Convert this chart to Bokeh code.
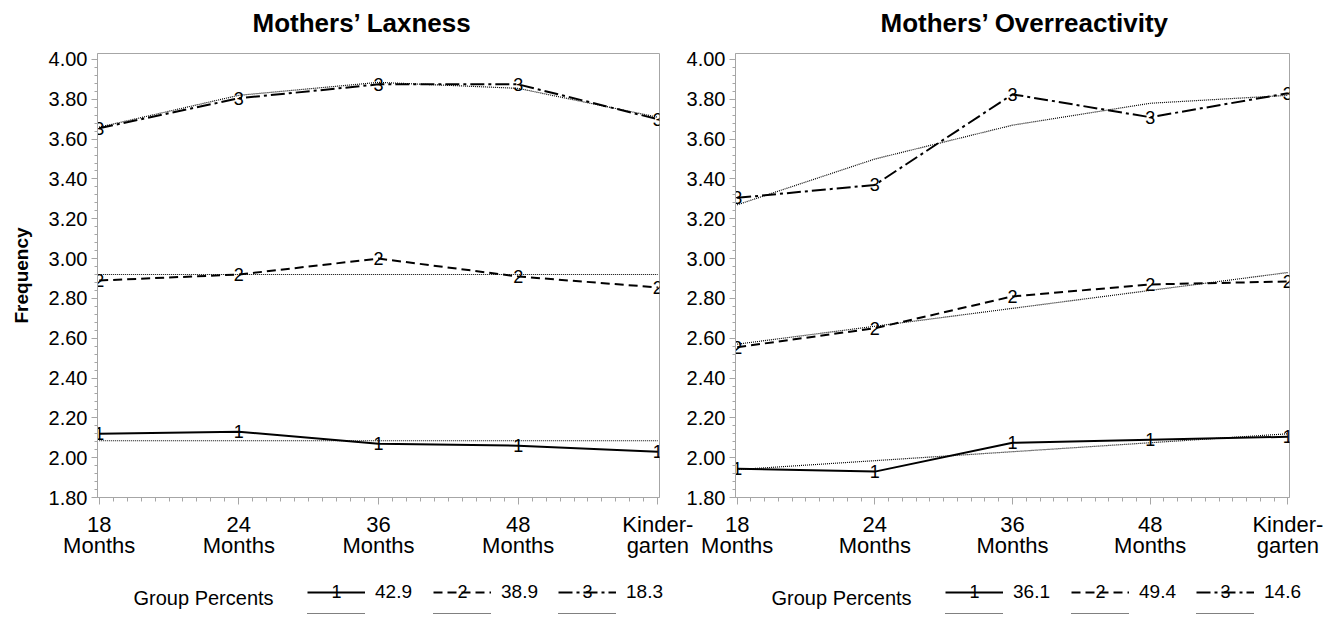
from bokeh.plotting import figure
from bokeh.models import (Range1d, SingleIntervalTicker, FixedTicker, PrintfTickFormatter, Legend,
                          LegendItem, Label, ColumnDataSource, LinearAxis)
from bokeh.layouts import row, column
from bokeh.core.properties import value
from bokeh.embed import file_html
from bokeh.resources import INLINE

# ---------------- data ----------------
period_top = ["18", "24", "36", "48", "Kinder-"]
period_bottom = ["Months", "Months", "Months", "Months", "garten"]
period_pos = [0, 1, 2, 3, 4]
group_ids = ["1", "2", "3"]

lax_g1 = [2.12, 2.13, 2.07, 2.06, 2.03]
lax_g2 = [2.89, 2.92, 3.00, 2.91, 2.855]
lax_g3 = [3.655, 3.805, 3.875, 3.875, 3.70]
lax_g1_fit = [2.085, 2.085, 2.085, 2.085, 2.085]
lax_g2_fit = [2.92, 2.92, 2.92, 2.92, 2.92]
lax_g3_fit = [3.66, 3.82, 3.885, 3.855, 3.71]
lax_pct = ["42.9", "38.9", "18.3"]

over_g1 = [1.945, 1.93, 2.075, 2.09, 2.105]
over_g2 = [2.555, 2.65, 2.81, 2.87, 2.885]
over_g3 = [3.305, 3.37, 3.825, 3.71, 3.83]
over_g1_fit = [1.94, 1.985, 2.03, 2.075, 2.12]
over_g2_fit = [2.57, 2.66, 2.75, 2.84, 2.93]
over_g3_fit = [3.27, 3.50, 3.67, 3.78, 3.82]
over_pct = ["36.1", "49.4", "14.6"]

FONT = "Liberation Sans"
AX = "#a6a6a6"
DASHES = ["solid", "9 5", "14 4 3 4"]
FIT_DASH = "1 1"
LEG_X = [210, 336, 461]
TITLE_H = 43
PANEL_H = 525
LEGEND_H = 50


def strip(total_w, h):
    s = figure(frame_width=total_w, frame_height=h,
               x_range=Range1d(0, 1), y_range=Range1d(0, 1),
               min_border_left=0, min_border_right=0,
               min_border_top=0, min_border_bottom=0,
               x_axis_type=None, y_axis_type=None,
               output_backend="svg", toolbar_location=None, tools="")
    s.outline_line_color = None
    s.xgrid.visible = False
    s.ygrid.visible = False
    return s


def make_title(text, total_w, left_b, offset):
    t = strip(total_w, TITLE_H)
    t.add_layout(Label(x=left_b + offset, y=21, x_units="screen", y_units="screen",
                       text=text, text_align="left", text_baseline="middle",
                       text_font=FONT, text_font_size="26px", text_font_style="bold",
                       text_color="black"))
    return t


def make_panel(series, fits, width, left_b, right_b, ylabel):
    p = figure(width=width, height=PANEL_H,
               x_range=Range1d(-0.012, 4.012), y_range=Range1d(1.8, 4.03),
               min_border_left=left_b, min_border_right=right_b,
               min_border_top=10, min_border_bottom=71,
               output_backend="svg", toolbar_location=None, tools="")
    p.outline_line_color = AX
    p.xgrid.visible = False
    p.ygrid.visible = False

    xa = p.xaxis[0]
    xa.ticker = SingleIntervalTicker(interval=1, num_minor_ticks=10)
    xa.major_label_overrides = {pos: lab for pos, lab in zip(period_pos, period_top)}
    ya = p.yaxis[0]
    ya.ticker = SingleIntervalTicker(interval=0.2, num_minor_ticks=5)
    ya.formatter = PrintfTickFormatter(format="%.2f")
    for ax in (xa, ya):
        ax.axis_line_color = AX
        ax.major_tick_line_color = AX
        ax.minor_tick_line_color = AX
        ax.major_tick_in = 0
        ax.minor_tick_in = 0
        ax.major_label_text_color = "black"
        ax.major_label_text_font = FONT
    xa.major_tick_out = 7
    xa.minor_tick_out = 4
    xa.major_label_text_font_size = "22px"
    xa.major_label_standoff = 7
    ya.major_tick_out = 6
    ya.minor_tick_out = 3
    ya.major_label_text_font_size = "20px"
    ya.major_label_standoff = 4
    if ylabel:
        ya.axis_label = ylabel
        ya.axis_label_text_font = FONT
        ya.axis_label_text_font_size = "19px"
        ya.axis_label_text_font_style = "bold"
        ya.axis_label_text_color = "black"
        ya.axis_label_standoff = 14

    xb = LinearAxis(ticker=FixedTicker(ticks=period_pos),
                    major_label_overrides={pos: lab for pos, lab in zip(period_pos, period_bottom)},
                    axis_line_color=None, major_tick_line_color=None, minor_tick_line_color=None,
                    major_tick_in=0, major_tick_out=0, minor_tick_in=0, minor_tick_out=0,
                    major_label_standoff=-7, major_label_text_font=FONT,
                    major_label_text_font_size="22px", major_label_text_color="black")
    p.add_layout(xb, "below")

    for vals, fit, gid, dash in zip(series, fits, group_ids, DASHES):
        src = ColumnDataSource(dict(x=period_pos, y=vals, lab=[gid] * len(vals)))
        p.line("x", "y", source=src, line_color="black", line_width=2, line_dash=dash)
        p.line(period_pos, fit, line_color="black", line_width=1.2, line_dash=FIT_DASH)
        p.text("x", "y", text="lab", source=src, text_align="center", text_baseline="middle",
               text_font=value(FONT), text_font_size="18px", text_color="black")
    return p


def make_legend(series, fits, pcts, total_w, left_b):
    # legend strip: the sample lines use the series data, which lies outside
    # this strip's ranges, so only the legend glyphs show
    lg = strip(total_w, LEGEND_H)
    for k, (vals, fit, pct, gid, dash) in enumerate(zip(series, fits, pcts, group_ids, DASHES)):
        r = lg.line(period_pos, vals, line_color="black", line_width=2, line_dash=dash)
        f = lg.line(period_pos, fit, line_color="black", line_width=1.2, line_dash=FIT_DASH)
        x0 = left_b + LEG_X[k]
        lg.add_layout(Legend(items=[LegendItem(label=value(pct), renderers=[r])],
                             location=(x0, 15), padding=0, margin=0, spacing=0,
                             border_line_alpha=0, background_fill_alpha=0,
                             glyph_width=58, glyph_height=20, label_height=20, label_standoff=10,
                             label_text_font=FONT, label_text_font_size="19px",
                             label_text_color="black"))
        lg.add_layout(Legend(items=[LegendItem(label=value(" "), renderers=[f])],
                             location=(x0, 1), padding=0, margin=0, spacing=0,
                             border_line_alpha=0, background_fill_alpha=0,
                             glyph_width=58, glyph_height=8, label_height=8, label_standoff=0,
                             label_text_font_size="6px"))
        lg.add_layout(Label(x=x0 + 29, y=27, x_units="screen", y_units="screen",
                            text=gid, text_align="center", text_baseline="middle",
                            text_font=FONT, text_font_size="18px", text_color="black"))
    lg.add_layout(Label(x=left_b + 36, y=21, x_units="screen", y_units="screen",
                        text="Group Percents", text_align="left", text_baseline="middle",
                        text_font=FONT, text_font_size="20px", text_color="black"))
    return lg


t1 = make_title("Mothers\u2019 Laxness", 700, 97, 155)
t2 = make_title("Mothers\u2019 Overreactivity", 660, 57, 145)
p1 = make_panel([lax_g1, lax_g2, lax_g3], [lax_g1_fit, lax_g2_fit, lax_g3_fit],
                700, 97, 41, "Frequency")
p2 = make_panel([over_g1, over_g2, over_g3], [over_g1_fit, over_g2_fit, over_g3_fit],
                660, 57, 49, None)
l1 = make_legend([lax_g1, lax_g2, lax_g3], [lax_g1_fit, lax_g2_fit, lax_g3_fit], lax_pct,
                 700, 97)
l2 = make_legend([over_g1, over_g2, over_g3], [over_g1_fit, over_g2_fit, over_g3_fit], over_pct,
                 660, 57)
for f in (t2, p2, l2):
    f.border_fill_color = None
    f.background_fill_color = None
    f.margin = (0, 0, 0, -22)
p2.background_fill_color = "white"

layout = column(row(t1, t2), row(p1, p2), row(l1, l2))
open("out.html", "w").write(file_html(layout, INLINE))
